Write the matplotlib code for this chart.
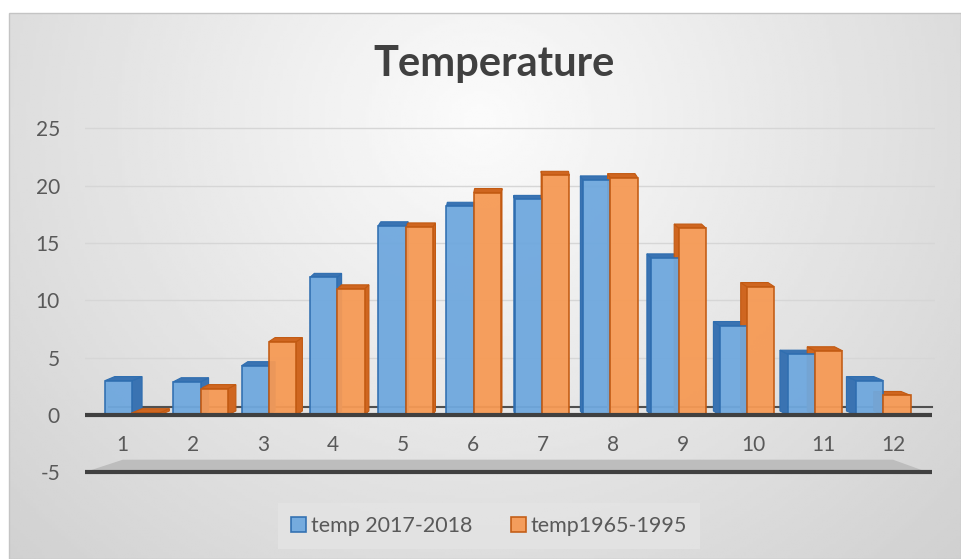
import numpy as np
import matplotlib
matplotlib.use('Agg')
import matplotlib.pyplot as plt
from matplotlib.patches import Polygon, Rectangle

months = np.arange(1, 13)
month_labels = [str(m) for m in months]
temp_2017_2018 = [3.0, 2.9, 4.3, 12.0, 16.5, 18.2, 18.8, 20.5, 13.7, 7.8, 5.3, 3.0]
temp_1965_1995 = [0.2, 2.3, 6.4, 11.0, 16.4, 19.4, 20.9, 20.7, 16.3, 11.2, 5.6, 1.7]
series_names = ['temp 2017-2018', 'temp1965-1995']
y_ticks = [-5, 0, 5, 10, 15, 20, 25]

plt.rcParams['font.family'] = ['Lato', 'DejaVu Sans']

fig = plt.figure(figsize=(9.61, 5.59), dpi=100)

# gray gradient background of the chart area
bg = fig.add_axes([0, 0, 1, 1])
bg.set_xlim(0, 961)
bg.set_ylim(559, 0)
bg.axis('off')
gx, gy = np.meshgrid(np.linspace(9, 961, 300), np.linspace(13, 559, 200))
r = np.sqrt(((gx - 480) / 560) ** 2 + ((gy - 120) / 520) ** 2)
shade = np.clip(0.985 - 0.14 * r, 0.78, 1)
bg.imshow(shade, cmap='gray', vmin=0, vmax=1, extent=(9, 961, 559, 13), aspect='auto')
bg.add_patch(Rectangle((9, 13), 952, 546, fill=False, edgecolor='#c4c4c4', lw=1))

ax = fig.add_axes([85 / 961, 1 - 480 / 559, 850 / 961, 362 / 559])
ax.set_facecolor('none')
ax.set_xlim(0.46, 12.6)
ax.set_ylim(-5.67, 25.9)
for s in ax.spines.values():
    s.set_visible(False)

for t in y_ticks[2:]:
    ax.axhline(t, color='#d6d6d6', lw=1, zorder=0)

# floor of the 3d chart
ax.add_patch(Polygon([(months[0] - 0.55, -5), (months[0] - 0.0, -3.9),
                      (months[-1] + 0.0, -3.9), (months[-1] + 0.5, -5)],
                     closed=True, facecolor='#bdbdbd', edgecolor='none', zorder=1))
ax.plot([months[0] - 0.55, months[-1] + 0.56], [-5, -5], color='#404040', lw=3, zorder=2,
        solid_capstyle='butt')
ax.plot([months[0] - 0.2, months[-1] + 0.56], [0.7, 0.7], color='#505050', lw=1.5, zorder=1)
ax.plot([months[0] - 0.55, months[-1] + 0.56], [0, 0], color='#404040', lw=3, zorder=5,
        solid_capstyle='butt')

w = 0.39
k = 0.025
dy = 0.35
styles = [('#6fa8de', '#2f6eb0', '#3a73b2'), ('#f69a55', '#c25a12', '#cf6620')]
handles = []
for j, vals in enumerate([temp_2017_2018, temp_1965_1995]):
    face, edge, side = styles[j]
    shift = k * (6.5 - months)
    xs = months + shift + (j - 0.5) * w
    b = ax.bar(xs, vals, width=w, color=face, edgecolor=edge, lw=1.2,
               alpha=0.95, zorder=4, label=series_names[j])
    handles.append(b)
    for x, v, dx in zip(xs, vals, shift):
        if dx >= 0:
            xe = x + w / 2
        else:
            xe = x - w / 2
        ax.add_patch(Polygon([(xe, 0), (xe + dx, dy), (xe + dx, v + dy), (xe, v)],
                             facecolor=side, edgecolor=edge, lw=0.8, zorder=3))
        ax.add_patch(Polygon([(x - w / 2, v), (x - w / 2 + dx, v + dy),
                              (x + w / 2 + dx, v + dy), (x + w / 2, v)],
                             facecolor=side, edgecolor=edge, lw=0.8, zorder=3))

for m, lab in zip(months, month_labels):
    ax.text(m, -2.6, lab, ha='center', va='center', fontsize=15, color='#595959')

ax.set_xticks([])
ax.set_yticks(y_ticks)
ax.set_yticklabels([str(t) for t in y_ticks])
ax.tick_params(axis='y', length=0, pad=18, labelsize=15, labelcolor='#595959')

fig.text(494 / 961, 1 - 64 / 559, 'Temperature', ha='center', va='center',
         fontsize=30, fontweight='bold', color='#404040')

leg = fig.legend(handles=handles, loc='center', bbox_to_anchor=(489 / 961, 1 - 526 / 559),
                 ncol=2, fontsize=15.5, frameon=True, fancybox=False,
                 handlelength=0.7, handleheight=0.7, handletextpad=0.2,
                 columnspacing=1.8, borderpad=0.6)
leg.get_frame().set_facecolor('#e4e4e4')
leg.get_frame().set_edgecolor('none')
for t in leg.get_texts():
    t.set_color('#595959')

fig.savefig('out.png', dpi=100)
